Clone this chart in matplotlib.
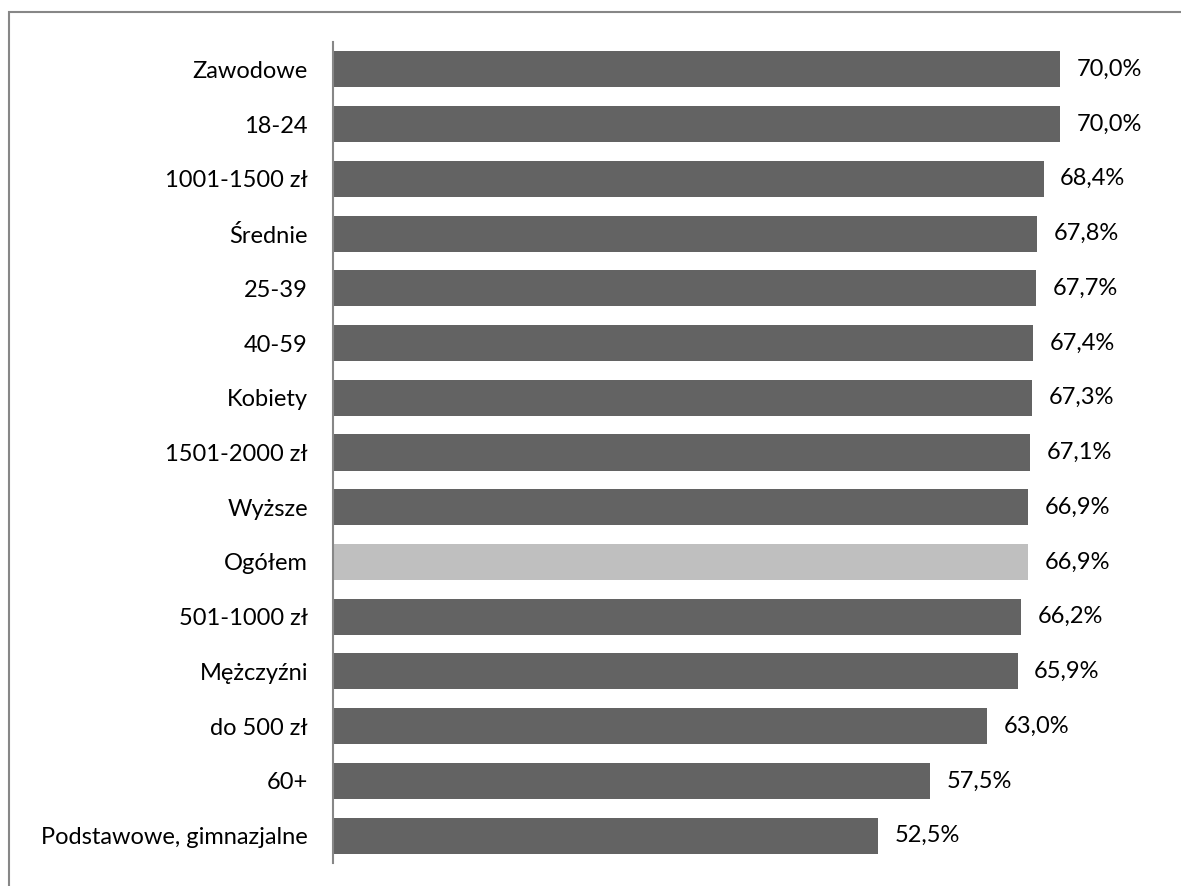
import matplotlib
matplotlib.use("Agg")
import matplotlib.pyplot as plt
from matplotlib.patches import Rectangle

categories = [
    "Zawodowe", "18-24", "1001-1500 zł", "Średnie", "25-39", "40-59",
    "Kobiety", "1501-2000 zł", "Wyższe", "Ogółem", "501-1000 zł",
    "Mężczyźni", "do 500 zł", "60+", "Podstawowe, gimnazjalne",
]
values = [70.0, 70.0, 68.4, 67.8, 67.7, 67.4, 67.3, 67.1, 66.9, 66.9,
          66.2, 65.9, 63.0, 57.5, 52.5]
highlight = "Ogółem"

plt.rcParams["font.family"] = ["Lato", "DejaVu Sans"]

W, H = 1181, 886
fig = plt.figure(figsize=(W / 100, H / 100), dpi=100)

# outer chart frame (runs off the right and bottom edges)
fig.patches.append(Rectangle((9 / W, -0.2), 1.2, 1.2 - 12 / H, transform=fig.transFigure,
                             fill=False, edgecolor="#878787", linewidth=1.5))

ax = fig.add_axes([333 / W, 23 / H, 831 / W, 821 / H])
n = len(categories)
ypos = list(range(n))
colors = ["#BFBFBF" if c == highlight else "#636363" for c in categories]
ax.barh(ypos, values, height=0.66, color=colors, edgecolor="none")
ax.set_xlim(0, 80)
ax.set_ylim(n - 0.5, -0.5)
ax.set_yticks(ypos)
ax.set_yticklabels(categories, fontsize=17, color="black")
ax.tick_params(axis="y", length=0, pad=18)
ax.set_xticks([])
for s in ["top", "right", "bottom"]:
    ax.spines[s].set_visible(False)
ax.spines["left"].set_color("#878787")
ax.spines["left"].set_linewidth(1.5)

for y, v in zip(ypos, values):
    ax.annotate(f"{v:.1f}%".replace(".", ","), (v, y), xytext=(12, 0),
                textcoords="offset points", va="center", ha="left",
                fontsize=17, color="black")

fig.savefig("out.png", dpi=100)
